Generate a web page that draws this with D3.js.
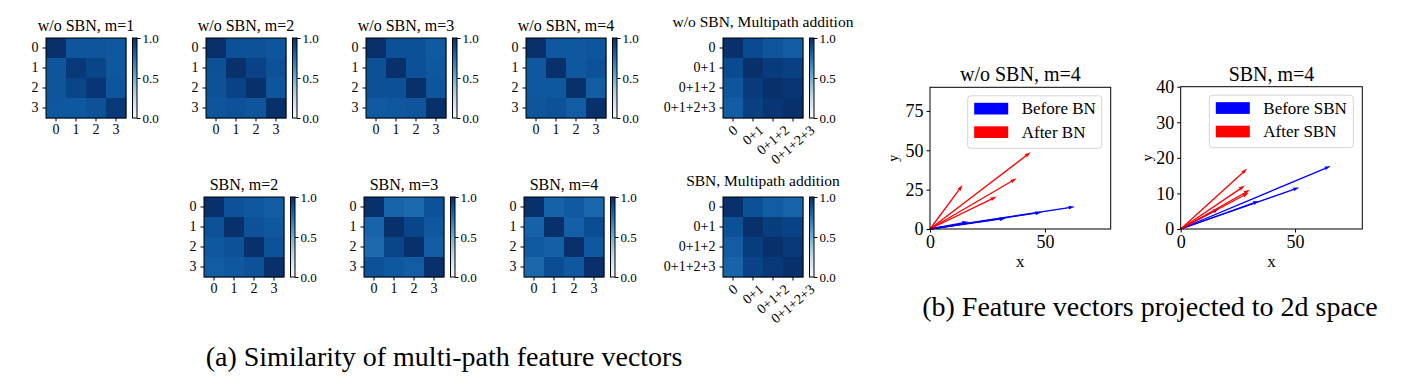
<!DOCTYPE html>
<html>
<head>
<meta charset="utf-8">
<script src="https://d3js.org/d3.v7.min.js"></script>
<style>
body { margin: 0; background: #fff; }
svg text { font-family: "Liberation Serif", "Times New Roman", serif; fill: #000; }
.axis path, .axis line { stroke: #000; stroke-width: 1; }
</style>
</head>
<body>
<div id="chart"></div>
<script>
/* tick labels */
var pathLabels = ["0", "1", "2", "3"];
var sumLabels = ["0", "0+1", "0+1+2", "0+1+2+3"];
var cbTicks = [0, 0.5, 1.0];

/* (a) similarity matrices */
var woM1 = [[1.00, 0.86, 0.86, 0.85], [0.86, 0.97, 0.92, 0.85], [0.86, 0.92, 0.98, 0.86], [0.85, 0.85, 0.87, 0.97]];
var woM2 = [[1.00, 0.88, 0.87, 0.86], [0.88, 1.00, 0.93, 0.87], [0.87, 0.93, 1.00, 0.86], [0.86, 0.87, 0.86, 1.00]];
var woM3 = [[1.00, 0.88, 0.88, 0.84], [0.88, 1.00, 0.88, 0.85], [0.88, 0.88, 1.00, 0.86], [0.84, 0.85, 0.86, 1.00]];
var woM4 = [[1.00, 0.85, 0.85, 0.86], [0.85, 1.00, 0.85, 0.87], [0.85, 0.85, 1.00, 0.83], [0.86, 0.87, 0.83, 1.00]];
var woSum = [[1.00, 0.90, 0.86, 0.83], [0.90, 1.00, 0.96, 0.94], [0.86, 0.96, 1.00, 0.98], [0.83, 0.94, 0.98, 1.00]];
var sbnM2 = [[1.00, 0.87, 0.85, 0.83], [0.87, 1.00, 0.87, 0.85], [0.85, 0.87, 1.00, 0.87], [0.83, 0.85, 0.87, 1.00]];
var sbnM3 = [[1.00, 0.80, 0.78, 0.87], [0.80, 1.00, 0.92, 0.85], [0.78, 0.92, 1.00, 0.83], [0.87, 0.85, 0.83, 1.00]];
var sbnM4 = [[1.00, 0.81, 0.84, 0.79], [0.81, 1.00, 0.82, 0.89], [0.84, 0.82, 1.00, 0.85], [0.79, 0.89, 0.85, 1.00]];
var sbnSum = [[1.00, 0.88, 0.83, 0.80], [0.88, 1.00, 0.95, 0.93], [0.83, 0.95, 1.00, 0.97], [0.80, 0.93, 0.97, 1.00]];

/* (b) projected feature vectors, [x, y] */
var woBefore = [[16.7, 4.6], [33.0, 6.8], [48.6, 10.6], [63.0, 14.2]];
var woAfter = [[14.2, 28.0], [43.8, 48.8], [37.7, 32.2], [29.0, 20.6]];
var sbnBefore = [[65.6, 17.7], [51.9, 11.7], [34.4, 7.9], [16.9, 5.8]];
var sbnAfter = [[29.1, 17.0], [28.1, 12.2], [30.3, 11.0], [29.8, 10.2]];
var woXTicks = [0, 50], woYTicks = [0, 25, 50, 75];
var sbnXTicks = [0, 50], sbnYTicks = [0, 10, 20, 30, 40];

var width = 1412, height = 387;
var hm = 80;          // heatmap size
var tickLen = 3.5;
var serif = "Liberation Serif, Times New Roman, serif";
var color = d3.scaleSequential(d3.interpolateBlues).domain([0, 1]);

var svg = d3.select("#chart").append("svg")
  .attr("width", width).attr("height", height);

var defs = svg.append("defs");
var grad = defs.append("linearGradient").attr("id", "blues")
  .attr("x1", 0).attr("y1", 1).attr("x2", 0).attr("y2", 0);
d3.range(0, 1.001, 0.05).forEach(function(t) {
  grad.append("stop").attr("offset", t).attr("stop-color", color(t));
});

var heatmaps = [
  {title: "w/o SBN, m=1", data: woM1, labels: pathLabels, x: 46, y: 38},
  {title: "w/o SBN, m=2", data: woM2, labels: pathLabels, x: 206, y: 38},
  {title: "w/o SBN, m=3", data: woM3, labels: pathLabels, x: 366, y: 38},
  {title: "w/o SBN, m=4", data: woM4, labels: pathLabels, x: 526, y: 38},
  {title: "w/o SBN, Multipath addition", data: woSum, labels: sumLabels, x: 723, y: 38, rot: true},
  {title: "SBN, m=2", data: sbnM2, labels: pathLabels, x: 204, y: 197},
  {title: "SBN, m=3", data: sbnM3, labels: pathLabels, x: 364, y: 197},
  {title: "SBN, m=4", data: sbnM4, labels: pathLabels, x: 524, y: 197},
  {title: "SBN, Multipath addition", data: sbnSum, labels: sumLabels, x: 723, y: 197, rot: true}
];

heatmaps.forEach(drawHeatmap);

function styleAxis(sel, size) {
  sel.attr("font-size", size).attr("font-family", serif);
  sel.select(".domain").remove();
}

function drawHeatmap(spec) {
  var g = svg.append("g").attr("transform", `translate(${spec.x},${spec.y})`);
  var idx = d3.range(spec.labels.length);
  var x = d3.scaleBand().domain(idx).range([0, hm]);
  var y = d3.scaleBand().domain(idx).range([0, hm]);
  var cells = [];
  spec.data.forEach(function(row, i) {
    row.forEach(function(v, j) { cells.push({i: i, j: j, v: v}); });
  });
  g.selectAll(".cell").data(cells).enter().append("rect")
    .attr("class", "cell")
    .attr("x", d => x(d.j)).attr("y", d => y(d.i))
    .attr("width", x.bandwidth() + 0.4).attr("height", y.bandwidth() + 0.4)
    .attr("fill", d => color(d.v));
  g.append("rect").attr("width", hm).attr("height", hm)
    .attr("fill", "none").attr("stroke", "#000");

  var ya = g.append("g").attr("class", "axis")
    .call(d3.axisLeft(y).tickSize(tickLen).tickPadding(4).tickFormat(i => spec.labels[i]));
  styleAxis(ya, 14);

  var xa = g.append("g").attr("class", "axis")
    .attr("transform", `translate(0,${hm})`)
    .call(d3.axisBottom(x).tickSize(tickLen).tickPadding(3).tickFormat(i => spec.labels[i]));
  styleAxis(xa, 14);
  if (spec.rot) {
    var deg = 40, ang = deg * Math.PI / 180;
    xa.selectAll("text").each(function() {
      var w = this.getComputedTextLength(), h = 10;
      var bh = w * Math.sin(ang) + h * Math.cos(ang);
      d3.select(this).attr("y", null).attr("dy", null)
        .attr("dominant-baseline", "central")
        .attr("text-anchor", "middle")
        .attr("transform", `translate(0,${tickLen + 3 + bh / 2}) rotate(${-deg})`);
    });
  }

  // long titles sit a little higher so they clear the colourbar label
  g.append("text").attr("x", hm / 2).attr("y", spec.rot ? -11 : -7)
    .attr("text-anchor", "middle").attr("font-size", spec.rot ? 15.5 : 16)
    .text(spec.title);

  // colourbar
  var cb = g.append("g").attr("transform", `translate(${hm + 6.5},0)`);
  cb.append("rect").attr("width", 4.5).attr("height", hm)
    .attr("fill", "url(#blues)").attr("stroke", "#000");
  var cy = d3.scaleLinear().domain([0, 1]).range([hm, 0]);
  var ca = cb.append("g").attr("class", "axis")
    .attr("transform", "translate(4.5,0)")
    .call(d3.axisRight(cy).tickValues(cbTicks).tickSize(tickLen).tickPadding(2).tickFormat(d3.format(".1f")));
  styleAxis(ca, 13);
}

/* (b) quiver plots */
var quivers = [
  {title: "w/o SBN, m=4", before: woBefore, after: woAfter, xt: woXTicks, yt: woYTicks,
   xmax: 78.6, ymax: 90, x0: 930, x1: 1110.7, y0: 87.3, y1: 229,
   legend: ["Before BN", "After BN"], lx: 967.7, lw: 134, ylab: 893},
  {title: "SBN, m=4", before: sbnBefore, after: sbnAfter, xt: sbnXTicks, yt: sbnYTicks,
   xmax: 79.4, ymax: 40, x0: 1180.7, x1: 1362.3, y0: 86.7, y1: 229,
   legend: ["Before SBN", "After SBN"], lx: 1209.3, lw: 144, ylab: 1147}
];

quivers.forEach(drawQuiver);

function arrowPath(sx, sy, ex, ey) {
  var w = 1.3, dx = ex - sx, dy = ey - sy, L = Math.hypot(dx, dy);
  var ux = dx / L, uy = dy / L, nx = -uy, ny = ux;
  var pts = [[0, -w / 2], [L - 4.5 * w, -w / 2], [L - 5 * w, -1.5 * w], [L, 0],
             [L - 5 * w, 1.5 * w], [L - 4.5 * w, w / 2], [0, w / 2]];
  return "M" + pts.map(p => [sx + ux * p[0] + nx * p[1], sy + uy * p[0] + ny * p[1]].join(",")).join("L") + "Z";
}

function drawQuiver(q) {
  var x = d3.scaleLinear().domain([0, q.xmax]).range([q.x0, q.x1]);
  var y = d3.scaleLinear().domain([0, q.ymax]).range([q.y1, q.y0]);

  var xa = svg.append("g").attr("class", "axis")
    .attr("transform", `translate(0,${q.y1})`)
    .call(d3.axisBottom(x).tickValues(q.xt).tickSize(tickLen).tickPadding(3));
  styleAxis(xa, 18);
  var ya = svg.append("g").attr("class", "axis")
    .attr("transform", `translate(${q.x0},0)`)
    .call(d3.axisLeft(y).tickValues(q.yt).tickSize(tickLen).tickPadding(3));
  styleAxis(ya, 18);

  var sets = [{d: q.before, c: "#0000ff"}, {d: q.after, c: "#ff0000"}];
  sets.forEach(function(s) {
    svg.append("g").selectAll("path").data(s.d).enter().append("path")
      .attr("d", d => arrowPath(x(0), y(0), x(d[0]), y(d[1])))
      .attr("fill", s.c);
  });

  svg.append("rect").attr("x", q.x0).attr("y", q.y0)
    .attr("width", q.x1 - q.x0).attr("height", q.y1 - q.y0)
    .attr("fill", "none").attr("stroke", "#000");

  svg.append("text").attr("x", (q.x0 + q.x1) / 2).attr("y", q.y0 - 6)
    .attr("text-anchor", "middle").attr("font-size", 20).text(q.title);
  svg.append("text").attr("x", (q.x0 + q.x1) / 2).attr("y", q.y1 + 38)
    .attr("text-anchor", "middle").attr("font-size", 17).text("x");
  svg.append("text")
    .attr("transform", `translate(${q.ylab},${(q.y0 + q.y1) / 2}) rotate(-90)`)
    .attr("text-anchor", "middle").attr("dominant-baseline", "central")
    .attr("font-size", 14).text("y");

  // legend
  var lg = svg.append("g").attr("transform", `translate(${q.lx},${q.y0 + 8.5})`);
  lg.append("rect").attr("width", q.lw).attr("height", 52.5).attr("rx", 3)
    .attr("fill", "#fff").attr("fill-opacity", 0.8).attr("stroke", "#d5d5d5");
  q.legend.forEach(function(name, i) {
    lg.append("rect").attr("x", 6.5).attr("y", 7 + i * 23.5)
      .attr("width", 34).attr("height", 11.7).attr("fill", sets[i].c);
    lg.append("text").attr("x", 54).attr("y", 18.5 + i * 23.5)
      .attr("font-size", 17).text(name);
  });
}

/* captions */
svg.append("text").attr("x", 444).attr("y", 366).attr("text-anchor", "middle")
  .attr("font-size", 28).text("(a) Similarity of multi-path feature vectors");
svg.append("text").attr("x", 1150).attr("y", 316).attr("text-anchor", "middle")
  .attr("font-size", 28).text("(b) Feature vectors projected to 2d space");
</script>
</body>
</html>
